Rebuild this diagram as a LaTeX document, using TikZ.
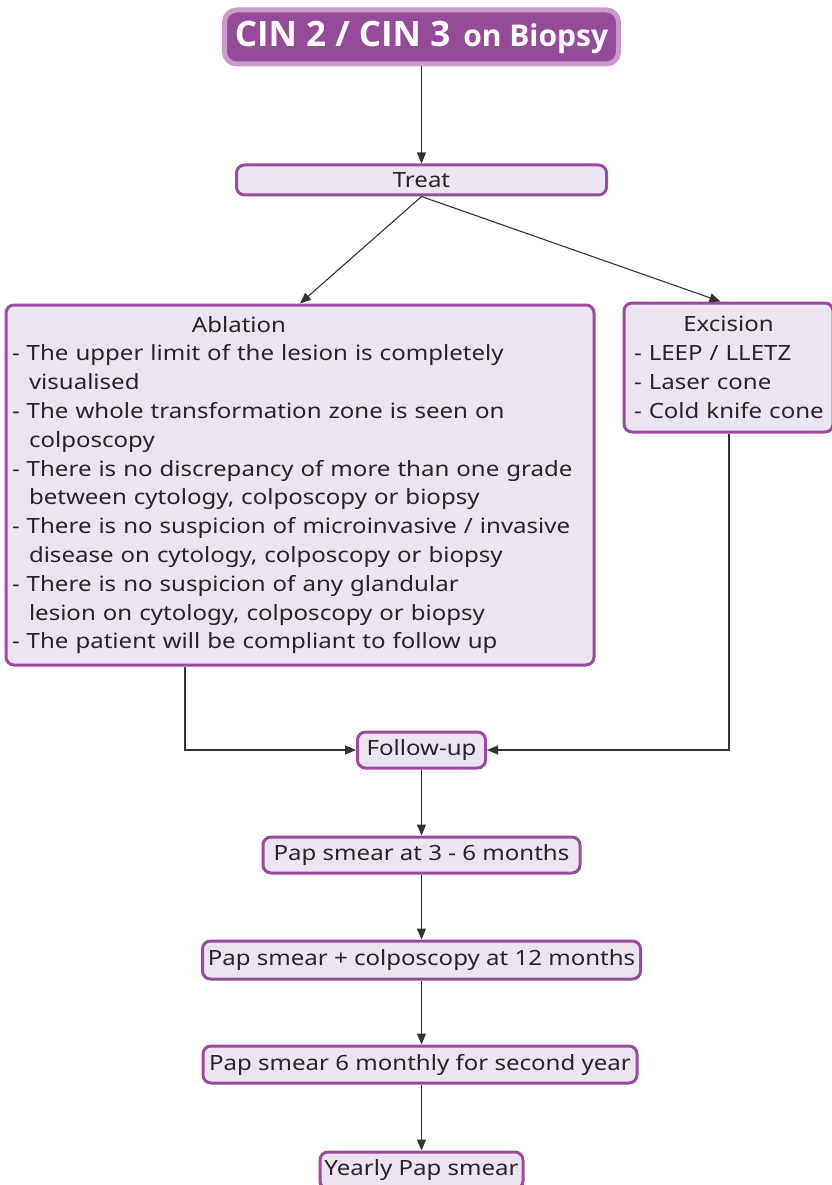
\documentclass[tikz,border=0pt]{standalone}
\usepackage{fontspec}
\setmainfont{Noto Sans}[FakeStretch=1.145]
\newfontfamily\headfont{Open Sans Bold}
\usetikzlibrary{arrows.meta}
\definecolor{boxline}{HTML}{9A4B9D}
\definecolor{boxfill}{HTML}{EDE4F2}
\definecolor{headfill}{HTML}{954A9A}
\definecolor{headline}{HTML}{C99BCB}
\definecolor{wire}{HTML}{333333}
\tikzset{
  stepbox/.style={draw=boxline, fill=boxfill, line width=3pt, rounded corners=8pt,
    inner sep=0pt, font=\fontsize{21}{28.8}\selectfont, text=black!85},
  listbox/.style={stepbox, align=left, inner ysep=0pt},
  headbox/.style={draw=headline, fill=headfill, line width=5pt, rounded corners=12pt,
    inner sep=0pt, text=white, font=\headfont},
  flow/.style={draw=wire, line width=1.1pt, -{Triangle[length=11pt,width=9pt]}},
}
\newcommand{\contline}{\hspace*{17pt}}
\begin{document}
\begin{tikzpicture}[x=1pt,y=-1pt]
\useasboundingbox (0,0) rectangle (831,1185);

% title
\node[headbox, minimum width=394pt, minimum height=54pt] (head) at (421.5,37)
  {{\fontsize{35}{35}\selectfont CIN 2 / CIN 3}\hspace{13pt}{\fontsize{30}{30}\selectfont on Biopsy}};

% treatment choice
\node[stepbox, minimum width=370pt, minimum height=30pt] (treat) at (421.5,180) {Treat};

\node[listbox, minimum width=588pt, minimum height=360pt, text width=576pt] (abl) at (300,485)
  {\makebox[454pt][c]{Ablation}\\
   \mbox{- The upper limit of the lesion is completely}\\
   \contline visualised\\
   \mbox{- The whole transformation zone is seen on}\\
   \contline colposcopy\\
   \mbox{- There is no discrepancy of more than one grade}\\
   \contline\mbox{between cytology, colposcopy or biopsy}\\
   \mbox{- There is no suspicion of microinvasive / invasive}\\
   \contline\mbox{disease on cytology, colposcopy or biopsy}\\
   \mbox{- There is no suspicion of any glandular}\\
   \contline\mbox{lesion on cytology, colposcopy or biopsy}\\
   \mbox{- The patient will be compliant to follow up}};

\node[listbox, minimum width=209pt, minimum height=129pt, text width=189pt] (exc) at (728.5,367.5)
  {\makebox[189pt][c]{Excision}\\
   \mbox{- LEEP / LLETZ}\\
   \mbox{- Laser cone}\\
   \mbox{- Cold knife cone}};

% follow-up schedule
\node[stepbox, minimum width=128pt, minimum height=36pt] (fu) at (421.5,750) {Follow-up};
\node[stepbox, minimum width=317pt, minimum height=36pt] (p1) at (421.5,855) {Pap smear at 3 - 6 months};
\node[stepbox, minimum width=438pt, minimum height=38pt] (p2) at (421.5,960) {Pap smear + colposcopy at 12 months};
\node[stepbox, minimum width=434pt, minimum height=37pt] (p3) at (420,1064.5) {Pap smear 6 monthly for second year};
\node[stepbox, minimum width=203pt, minimum height=37pt] (p4) at (421.5,1170.5) {Yearly Pap smear};

% connectors
\draw[flow] (head.south) -- (treat.north);
\draw[flow] (treat.south) -- (abl.north);
\draw[flow] (treat.south) -- ([xshift=-8pt]exc.north);
\draw[flow] ([xshift=-115pt]abl.south) |- (fu.west);
\draw[flow] ([xshift=0.5pt]exc.south) |- (fu.east);
\draw[flow] (fu.south) -- (p1.north);
\draw[flow] (p1.south) -- (p2.north);
\draw[flow] (p2.south) -- ([xshift=1.5pt]p3.north);
\draw[flow] ([xshift=1.5pt]p3.south) -- (p4.north);
\end{tikzpicture}
\end{document}
